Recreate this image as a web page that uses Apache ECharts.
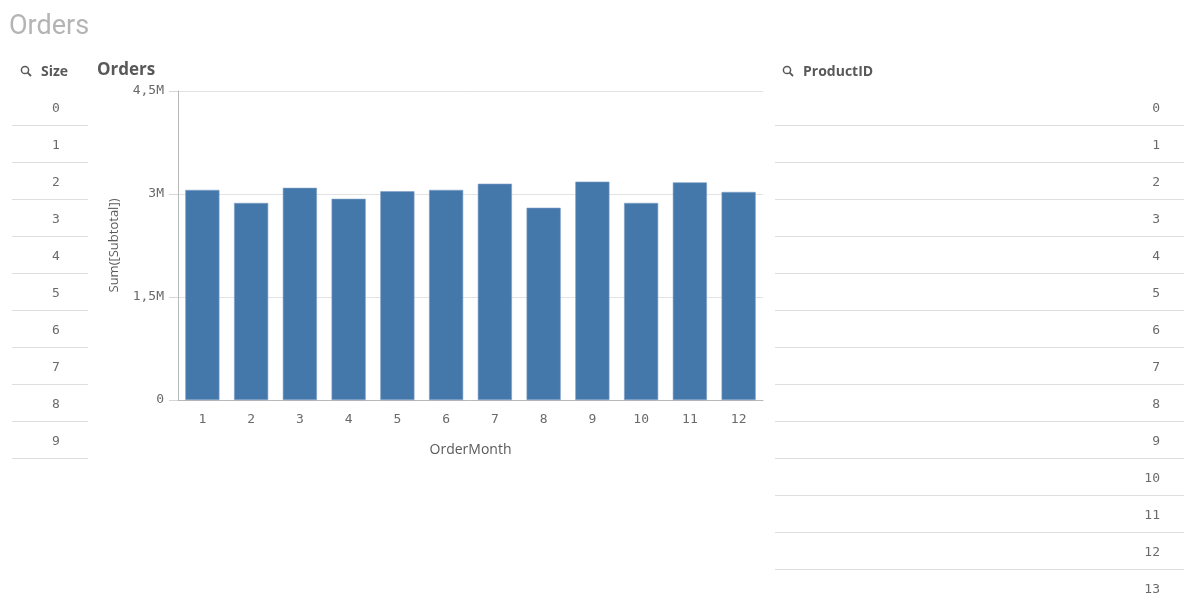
<!DOCTYPE html>
<html>
<head>
<meta charset="utf-8">
<script src="https://cdn.jsdelivr.net/npm/echarts@6/dist/echarts.min.js"></script>
<style>
  html, body { margin: 0; padding: 0; background: #fff; }
  body { width: 1184px; height: 601px; position: relative; overflow: hidden; font-family: 'Open Sans', sans-serif; }
  .pageTitle { position: absolute; left: 9px; top: 9px; font-size: 27px; color: #b4b4b4; font-family: Roboto, sans-serif; }
  .lbHead { position: absolute; top: 61px; font-size: 14px; font-weight: bold; color: #595959; font-family: 'Open Sans', sans-serif; }
  .lbHead svg { position: absolute; left: -21px; top: 4px; }
  .row { position: absolute; height: 37px; line-height: 37px; box-sizing: border-box; border-bottom: 1px solid #dedede;
         font-family: 'DejaVu Sans Mono', monospace; font-size: 13px; color: #6a6a6a; }
  #chart { position: absolute; left: 0; top: 0; width: 1184px; height: 601px; }
</style>
</head>
<body>
<div id="chart"></div>
<div class="pageTitle">Orders</div>
<div class="lbHead" style="left:41px">Size<svg width="13" height="13" viewBox="0 0 13 13"><circle cx="5" cy="5" r="3.6" fill="none" stroke="#595959" stroke-width="1.5"/><line x1="7.6" y1="7.6" x2="11" y2="11" stroke="#595959" stroke-width="1.8"/></svg></div>
<div class="lbHead" style="left:803px">ProductID<svg width="13" height="13" viewBox="0 0 13 13"><circle cx="5" cy="5" r="3.6" fill="none" stroke="#595959" stroke-width="1.5"/><line x1="7.6" y1="7.6" x2="11" y2="11" stroke="#595959" stroke-width="1.8"/></svg></div>
<div id="sizeList"></div>
<div id="productList"></div>
<script>
// listbox values
const sizeValues = ['0', '1', '2', '3', '4', '5', '6', '7', '8', '9']
const productIds = ['0', '1', '2', '3', '4', '5', '6', '7', '8', '9', '10', '11', '12', '13']

// bar chart data
const months = ['1', '2', '3', '4', '5', '6', '7', '8', '9', '10', '11', '12']
const subtotals = [3060000, 2870000, 3090000, 2930000, 3040000, 3060000, 3150000, 2800000, 3180000, 2870000, 3170000, 3030000]

// build the two listboxes
function buildList(id, values, left, width, align, pad) {
  const box = document.getElementById(id)
  values.forEach((v, i) => {
    const r = document.createElement('div')
    r.className = 'row'
    r.style.left = left + 'px'
    r.style.width = width + 'px'
    r.style.top = (89 + i * 37) + 'px'
    r.style.textAlign = align
    if (align === 'right') r.style.paddingRight = pad + 'px'
    else r.style.paddingLeft = pad + 'px'
    r.textContent = v
    box.appendChild(r)
  })
}
buildList('sizeList', sizeValues, 12, 76, 'center', 12)
buildList('productList', productIds, 775, 409, 'right', 24)

const chart = echarts.init(document.getElementById('chart'))
const option = {
  animation: false,
  title: {
    text: 'Orders',
    left: 92,
    top: 57,
    textStyle: { fontSize: 17, fontWeight: 'bold', color: '#595959', fontFamily: 'Open Sans' }
  },
  grid: { left: 178, top: 91, width: 585, height: 309 },
  xAxis: {
    type: 'category',
    data: months,
    name: 'OrderMonth',
    nameLocation: 'middle',
    nameGap: 43,
    nameTextStyle: { fontSize: 14, color: '#595959', fontFamily: 'Open Sans' },
    axisLine: { lineStyle: { color: '#b8b8b8' } },
    axisTick: { show: false },
    axisLabel: { fontSize: 13, color: '#6a6a6a', margin: 13, fontFamily: 'DejaVu Sans Mono' }
  },
  yAxis: {
    type: 'value',
    min: 0,
    max: 4500000,
    interval: 1500000,
    name: 'Sum([Subtotal])',
    nameLocation: 'middle',
    nameGap: 57,
    nameTextStyle: { fontSize: 13, color: '#595959', fontFamily: 'Open Sans' },
    axisLine: { show: true, lineStyle: { color: '#b8b8b8' } },
    axisTick: { show: true, length: 9, lineStyle: { color: '#d6d6d6' } },
    splitLine: { lineStyle: { color: '#e3e3e3' } },
    axisLabel: {
      fontSize: 13,
      color: '#6a6a6a',
      margin: 14,
      fontFamily: 'DejaVu Sans Mono',
      formatter: v => (v === 0 ? '0' : String(v / 1e6).replace('.', ',') + 'M')
    }
  },
  series: [
    {
      type: 'bar',
      data: subtotals,
      barCategoryGap: '30%',
      itemStyle: { color: '#4477aa', borderColor: '#7fa0c8', borderWidth: 0.6 }
    }
  ]
}
chart.setOption(option)
</script>
</body>
</html>
